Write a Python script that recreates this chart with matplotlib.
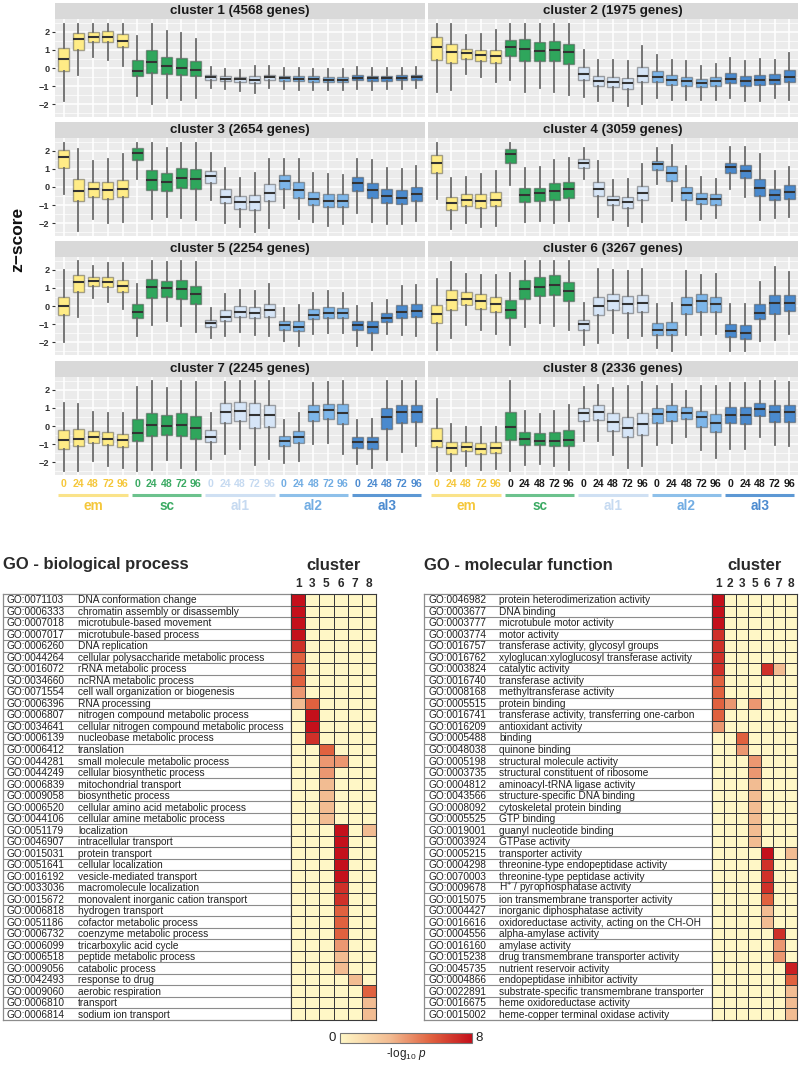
import numpy as np
import matplotlib
matplotlib.use('Agg')
import matplotlib.pyplot as plt
from matplotlib.colors import LinearSegmentedColormap, Normalize
from matplotlib.cm import ScalarMappable

plt.rcParams['font.family'] = ['Liberation Sans', 'DejaVu Sans']
plt.rcParams['mathtext.fontset'] = 'custom'
plt.rcParams['mathtext.rm'] = 'Liberation Sans'
plt.rcParams['mathtext.it'] = 'Liberation Sans:italic'

# ---------------- data: boxplot summaries (25 boxes per cluster) ----------------
groups = ['em', 'sc', 'al1', 'al2', 'al3']
hours = ['0', '24', '48', '72', '96']
cluster_titles = ['cluster 1 (4568 genes)', 'cluster 2 (1975 genes)',
                  'cluster 3 (2654 genes)', 'cluster 4 (3059 genes)',
                  'cluster 5 (2254 genes)', 'cluster 6 (3267 genes)',
                  'cluster 7 (2245 genes)', 'cluster 8 (2336 genes)']

c1_med = [0.5, 1.61, 1.72, 1.72, 1.52, -0.15, 0.33, 0.09, 0.0, -0.13, -0.52, -0.59, -0.63, -0.65, -0.5, -0.57, -0.59, -0.61, -0.65, -0.65, -0.56, -0.57, -0.57, -0.54, -0.52]
c1_q1 = [-0.19, 1.02, 1.44, 1.43, 1.15, -0.46, -0.28, -0.33, -0.41, -0.46, -0.65, -0.72, -0.8, -0.83, -0.65, -0.7, -0.72, -0.76, -0.8, -0.8, -0.69, -0.7, -0.7, -0.68, -0.66]
c1_q3 = [1.11, 1.94, 2.0, 2.04, 1.89, 0.43, 1.02, 0.61, 0.54, 0.39, -0.39, -0.46, -0.5, -0.46, -0.39, -0.43, -0.44, -0.46, -0.5, -0.5, -0.41, -0.43, -0.43, -0.41, -0.39]
c1_lo = [-1.85, -0.37, 0.61, 0.46, 0.09, -1.54, -1.98, -1.67, -1.76, -1.67, -1.11, -1.17, -1.26, -1.39, -1.11, -1.17, -1.2, -1.2, -1.24, -1.24, -1.17, -1.2, -1.17, -1.15, -1.13]
c1_hi = [2.46, 2.46, 2.46, 2.46, 2.46, 1.8, 2.46, 2.04, 1.94, 1.61, 0.04, -0.06, -0.13, 0.09, 0.09, 0.0, 0.0, -0.04, -0.04, -0.04, 0.04, 0.0, 0.0, 0.02, 0.04]

c2_med = [1.15, 0.87, 0.83, 0.72, 0.69, 1.17, 1.06, 0.93, 1.02, 0.87, -0.31, -0.7, -0.78, -0.83, -0.43, -0.5, -0.67, -0.74, -0.83, -0.72, -0.59, -0.72, -0.67, -0.65, -0.5]
c2_q1 = [0.43, 0.28, 0.5, 0.41, 0.28, 0.69, 0.37, 0.37, 0.37, 0.22, -0.65, -0.98, -1.06, -1.17, -0.78, -0.8, -0.94, -0.98, -1.06, -0.98, -0.83, -1.02, -0.94, -0.89, -0.8]
c2_q3 = [1.72, 1.35, 1.06, 1.02, 1.02, 1.57, 1.63, 1.43, 1.5, 1.35, 0.04, -0.43, -0.52, -0.57, 0.04, -0.19, -0.41, -0.5, -0.61, -0.52, -0.28, -0.46, -0.41, -0.35, -0.13]
c2_lo = [-1.35, -1.24, -0.31, -0.5, -0.76, -0.65, -1.31, -1.13, -1.31, -1.48, -1.61, -1.81, -1.85, -2.13, -2.0, -1.69, -1.76, -1.76, -1.76, -1.76, -1.69, -1.85, -1.81, -1.69, -1.76]
c2_hi = [2.46, 2.46, 1.85, 1.91, 2.09, 2.46, 2.46, 2.46, 2.46, 2.46, 1.02, 0.43, 0.46, 0.37, 1.24, 0.7, 0.43, 0.41, 0.09, 0.24, 0.56, 0.37, 0.5, 0.43, 0.83]

c3_med = [1.67, -0.22, -0.13, -0.19, -0.09, 1.91, 0.41, 0.28, 0.5, 0.46, 0.61, -0.54, -0.83, -0.83, -0.31, 0.33, -0.17, -0.65, -0.78, -0.78, 0.2, -0.17, -0.5, -0.59, -0.37]
c3_q1 = [1.07, -0.78, -0.54, -0.65, -0.56, 1.5, -0.17, -0.22, -0.07, -0.13, 0.24, -0.87, -1.2, -1.3, -0.78, -0.09, -0.59, -1.0, -1.11, -1.09, -0.22, -0.63, -0.87, -0.96, -0.78]
c3_q3 = [2.06, 0.43, 0.28, 0.28, 0.39, 2.19, 0.93, 0.76, 1.06, 0.98, 0.89, -0.13, -0.5, -0.46, 0.19, 0.65, 0.28, -0.28, -0.41, -0.41, 0.57, 0.24, -0.09, -0.17, 0.02]
c3_lo = [-0.41, -2.44, -1.76, -2.02, -1.94, 0.46, -1.8, -1.65, -1.74, -1.83, -0.72, -2.02, -2.22, -2.48, -2.26, -1.15, -1.8, -1.94, -2.17, -2.07, -1.43, -1.94, -2.04, -2.07, -1.89]
c3_hi = [2.46, 2.13, 1.44, 1.57, 1.81, 2.46, 2.46, 2.19, 2.43, 2.46, 1.91, 1.07, 0.52, 0.76, 1.57, 1.57, 1.54, 0.76, 0.7, 0.65, 1.57, 1.48, 1.07, 0.98, 1.17]

c4_med = [1.35, -0.91, -0.74, -0.78, -0.72, 1.81, -0.46, -0.35, -0.22, -0.13, 1.35, -0.13, -0.74, -0.81, -0.35, 1.26, 0.8, -0.35, -0.65, -0.69, 1.11, 0.89, -0.04, -0.44, -0.26]
c4_q1 = [0.8, -1.28, -1.06, -1.15, -1.06, 1.31, -0.81, -0.78, -0.72, -0.59, 1.07, -0.5, -1.02, -1.15, -0.74, 0.93, 0.33, -0.72, -0.94, -0.98, 0.8, 0.52, -0.5, -0.74, -0.65]
c4_q3 = [1.78, -0.54, -0.41, -0.41, -0.28, 2.13, -0.07, -0.04, 0.2, 0.28, 1.54, 0.28, -0.5, -0.54, 0.06, 1.44, 1.17, 0.02, -0.35, -0.41, 1.35, 1.22, 0.43, -0.09, 0.09]
c4_lo = [-0.69, -2.35, -1.98, -2.2, -2.17, 0.09, -1.93, -1.89, -2.02, -1.89, 0.43, -1.67, -1.83, -2.17, -1.94, 0.15, -0.78, -1.83, -1.76, -1.7, -0.09, -0.54, -1.83, -1.7, -1.65]
c4_hi = [2.46, 0.52, 0.57, 0.7, 0.89, 2.46, 1.07, 1.11, 1.5, 1.63, 2.19, 1.44, 0.37, 0.46, 1.26, 2.19, 2.33, 1.17, 0.57, 0.46, 2.22, 2.22, 1.85, 0.89, 1.13]

c5_med = [0.02, 1.35, 1.4, 1.35, 1.12, -0.32, 1.05, 0.99, 0.97, 0.67, -0.92, -0.6, -0.32, -0.39, -0.24, -1.07, -1.16, -0.49, -0.39, -0.39, -1.08, -1.18, -0.65, -0.34, -0.28]
c5_q1 = [-0.5, 0.8, 1.12, 1.03, 0.77, -0.65, 0.43, 0.5, 0.41, 0.09, -1.16, -0.84, -0.62, -0.69, -0.6, -1.33, -1.41, -0.73, -0.65, -0.65, -1.36, -1.5, -0.88, -0.69, -0.62]
c5_q3 = [0.52, 1.74, 1.59, 1.59, 1.44, 0.13, 1.5, 1.4, 1.44, 1.12, -0.75, -0.24, 0.0, -0.06, 0.13, -0.84, -0.84, -0.15, -0.06, -0.09, -0.84, -0.84, -0.37, 0.04, 0.09]
c5_lo = [-2.0, -0.62, 0.43, 0.22, -0.19, -1.68, -1.08, -0.84, -1.12, -1.44, -1.78, -1.68, -1.46, -1.59, -1.64, -1.96, -2.2, -1.55, -1.5, -1.5, -2.24, -2.43, -1.55, -1.59, -1.68]
c5_hi = [2.0, 2.48, 2.24, 2.37, 2.37, 1.21, 2.48, 2.43, 2.48, 2.46, -0.09, 0.65, 0.88, 0.84, 1.21, -0.09, 0.04, 0.71, 0.84, 0.71, 0.0, 0.19, 0.32, 1.12, 1.16]

c6_med = [-0.47, 0.34, 0.37, 0.28, 0.13, -0.24, 0.97, 1.08, 1.18, 0.86, -0.99, 0.0, 0.28, 0.09, 0.19, -1.31, -1.31, 0.06, 0.28, 0.13, -1.4, -1.51, -0.37, 0.17, 0.17]
c6_q1 = [-0.93, -0.22, 0.04, -0.15, -0.32, -0.69, 0.41, 0.56, 0.6, 0.28, -1.31, -0.52, -0.21, -0.37, -0.32, -1.59, -1.59, -0.47, -0.32, -0.36, -1.7, -1.83, -0.71, -0.43, -0.28]
c6_q3 = [0.06, 0.88, 0.75, 0.65, 0.5, 0.32, 1.46, 1.59, 1.72, 1.36, -0.75, 0.5, 0.69, 0.56, 0.62, -0.93, -0.9, 0.5, 0.65, 0.5, -0.99, -1.07, 0.09, 0.62, 0.6]
c6_lo = [-2.43, -1.78, -1.03, -1.31, -1.53, -2.19, -1.14, -0.93, -1.1, -1.36, -2.15, -2.06, -1.5, -1.78, -1.68, -2.34, -2.52, -1.63, -1.59, -1.55, -2.49, -2.52, -1.93, -1.87, -1.55]
c6_hi = [1.5, 2.47, 1.78, 1.72, 1.72, 1.81, 2.49, 2.49, 2.49, 2.49, 0.17, 2.04, 2.02, 1.93, 2.04, 0.09, 0.17, 1.96, 1.72, 1.78, 0.13, 0.09, 1.31, 2.15, 1.87]

c7_med = [-0.78, -0.73, -0.6, -0.73, -0.78, -0.37, 0.06, 0.02, 0.06, -0.13, -0.6, 0.8, 0.86, 0.61, 0.6, -0.84, -0.63, 0.8, 0.89, 0.74, -0.88, -0.91, 0.48, 0.76, 0.76]
c7_q1 = [-1.25, -1.12, -0.93, -1.08, -1.15, -0.84, -0.54, -0.5, -0.54, -0.73, -0.88, 0.15, 0.3, -0.13, -0.07, -1.12, -0.97, 0.3, 0.37, 0.11, -1.21, -1.3, -0.19, 0.15, 0.2]
c7_q3 = [-0.22, -0.19, -0.26, -0.35, -0.45, 0.37, 0.71, 0.61, 0.71, 0.56, -0.22, 1.27, 1.36, 1.27, 1.17, -0.56, -0.28, 1.17, 1.23, 1.23, -0.6, -0.6, 0.99, 1.17, 1.14]
c7_lo = [-2.5, -2.5, -1.94, -2.22, -2.31, -2.5, -2.42, -1.86, -2.33, -2.46, -1.81, -1.56, -1.3, -2.14, -1.84, -2.03, -1.96, -1.0, -0.97, -1.53, -2.12, -2.31, -1.86, -1.43, -1.12]
c7_hi = [1.3, 1.23, 0.8, 0.74, 0.74, 2.16, 2.48, 2.1, 2.48, 2.42, 0.74, 2.42, 2.48, 2.48, 2.48, 0.34, 0.74, 2.38, 2.42, 2.48, 0.34, 0.37, 2.48, 2.48, 2.48]

c8_med = [-0.84, -1.23, -1.14, -1.25, -1.21, -0.07, -0.74, -0.82, -0.82, -0.78, 0.71, 0.76, 0.2, -0.13, 0.09, 0.65, 0.76, 0.74, 0.48, 0.19, 0.61, 0.61, 0.95, 0.76, 0.76]
c8_q1 = [-1.19, -1.56, -1.4, -1.56, -1.49, -0.78, -1.06, -1.06, -1.12, -1.12, 0.3, 0.34, -0.28, -0.63, -0.5, 0.19, 0.28, 0.39, -0.04, -0.35, 0.15, 0.11, 0.56, 0.24, 0.2]
c8_q3 = [-0.13, -0.91, -0.88, -0.93, -0.91, 0.76, -0.32, -0.37, -0.35, -0.22, 0.99, 1.14, 0.71, 0.48, 0.71, 0.99, 1.14, 1.04, 0.84, 0.67, 1.04, 1.08, 1.3, 1.17, 1.17]
c8_lo = [-2.5, -2.5, -2.24, -2.46, -2.37, -2.5, -2.18, -2.12, -2.24, -2.42, -0.82, -0.82, -1.62, -2.31, -2.24, -1.06, -0.93, -0.63, -1.34, -1.77, -1.25, -1.25, -0.63, -1.06, -1.12]
c8_hi = [1.49, 0.11, -0.04, -0.04, -0.07, 2.48, 0.86, 0.67, 0.84, 1.14, 2.16, 2.29, 2.1, 2.2, 2.42, 2.2, 2.33, 1.92, 2.2, 2.2, 2.38, 2.38, 2.48, 2.48, 2.42]

cluster_stats = [
    (c1_med, c1_q1, c1_q3, c1_lo, c1_hi), (c2_med, c2_q1, c2_q3, c2_lo, c2_hi),
    (c3_med, c3_q1, c3_q3, c3_lo, c3_hi), (c4_med, c4_q1, c4_q3, c4_lo, c4_hi),
    (c5_med, c5_q1, c5_q3, c5_lo, c5_hi), (c6_med, c6_q1, c6_q3, c6_lo, c6_hi),
    (c7_med, c7_q1, c7_q3, c7_lo, c7_hi), (c8_med, c8_q1, c8_q3, c8_lo, c8_hi)]

# ---------------- data: GO enrichment tables ----------------
bp_ids = ['GO:0071103', 'GO:0006333', 'GO:0007018', 'GO:0007017', 'GO:0006260', 'GO:0044264',
          'GO:0016072', 'GO:0034660', 'GO:0071554', 'GO:0006396', 'GO:0006807', 'GO:0034641',
          'GO:0006139', 'GO:0006412', 'GO:0044281', 'GO:0044249', 'GO:0006839', 'GO:0009058',
          'GO:0006520', 'GO:0044106', 'GO:0051179', 'GO:0046907', 'GO:0015031', 'GO:0051641',
          'GO:0016192', 'GO:0033036', 'GO:0015672', 'GO:0006818', 'GO:0051186', 'GO:0006732',
          'GO:0006099', 'GO:0006518', 'GO:0009056', 'GO:0042493', 'GO:0009060', 'GO:0006810',
          'GO:0006814']
bp_names = ['DNA conformation change', 'chromatin assembly or disassembly', 'microtubule-based movement',
            'microtubule-based process', 'DNA replication', 'cellular polysaccharide metabolic process',
            'rRNA metabolic process', 'ncRNA metabolic process', 'cell wall organization or biogenesis',
            'RNA processing', 'nitrogen compound metabolic process',
            'cellular nitrogen compound metabolic process', 'nucleobase metabolic process', 'translation',
            'small molecule metabolic process', 'cellular biosynthetic process', 'mitochondrial transport',
            'biosynthetic process', 'cellular amino acid metabolic process', 'cellular amine metabolic process',
            'localization', 'intracellular transport', 'protein transport', 'cellular localization',
            'vesicle-mediated transport', 'macromolecule localization',
            'monovalent inorganic cation transport', 'hydrogen transport', 'cofactor metabolic process',
            'coenzyme metabolic process', 'tricarboxylic acid cycle', 'peptide metabolic process',
            'catabolic process', 'response to drug', 'aerobic respiration', 'transport',
            'sodium ion transport']
bp_clusters = ['1', '3', '5', '6', '7', '8']
bp_logp = [
    [8, 0, 0, 0, 0, 0], [8, 0, 0, 0, 0, 0], [8, 0, 0, 0, 0, 0], [8, 0, 0, 0, 0, 0],
    [7, 0, 0, 0, 0, 0], [5.5, 0, 0, 0, 0, 0], [5.5, 0, 0, 0, 0, 0], [5.5, 0, 0, 0, 0, 0],
    [4, 0, 0, 0, 0, 0], [3, 5.5, 0, 0, 0, 0], [0, 8, 0, 0, 0, 0], [0, 8, 0, 0, 0, 0],
    [0, 7, 0, 0, 0, 0], [0, 0, 5.5, 0, 0, 0], [0, 0, 4, 4, 0, 0], [0, 0, 4, 0, 0, 0],
    [0, 0, 3, 0, 0, 0], [0, 0, 3, 0, 0, 0], [0, 0, 3, 0, 0, 0], [0, 0, 3, 0, 0, 0],
    [0, 0, 0, 8, 0, 3], [0, 0, 0, 8, 0, 0], [0, 0, 0, 8, 0, 0], [0, 0, 0, 8, 0, 0],
    [0, 0, 0, 8, 0, 0], [0, 0, 0, 7, 0, 0], [0, 0, 0, 7, 0, 0], [0, 0, 0, 5.5, 0, 0],
    [0, 0, 0, 5.5, 0, 0], [0, 0, 0, 5.5, 0, 0], [0, 0, 0, 4, 0, 0], [0, 0, 0, 3, 0, 0],
    [0, 0, 0, 3, 0, 0], [0, 0, 0, 0, 3, 0], [0, 0, 0, 0, 0, 5.5], [0, 0, 0, 0, 0, 3],
    [0, 0, 0, 0, 0, 3]]

mf_ids = ['GO:0046982', 'GO:0003677', 'GO:0003777', 'GO:0003774', 'GO:0016757', 'GO:0016762',
          'GO:0003824', 'GO:0016740', 'GO:0008168', 'GO:0005515', 'GO:0016741', 'GO:0016209',
          'GO:0005488', 'GO:0048038', 'GO:0005198', 'GO:0003735', 'GO:0004812', 'GO:0043566',
          'GO:0008092', 'GO:0005525', 'GO:0019001', 'GO:0003924', 'GO:0005215', 'GO:0004298',
          'GO:0070003', 'GO:0009678', 'GO:0015075', 'GO:0004427', 'GO:0016616', 'GO:0004556',
          'GO:0016160', 'GO:0015238', 'GO:0045735', 'GO:0004866', 'GO:0022891', 'GO:0016675',
          'GO:0015002']
mf_names = ['protein heterodimerization activity', 'DNA binding', 'microtubule motor activity',
            'motor activity', 'transferase activity, glycosyl groups',
            'xyloglucan:xyloglucosyl transferase activity', 'catalytic activity', 'transferase activity',
            'methyltransferase activity', 'protein binding', 'transferase activity, transferring one-carbon',
            'antioxidant activity', 'binding', 'quinone binding', 'structural molecule activity',
            'structural constituent of ribosome', 'aminoacyl-tRNA ligase activity',
            'structure-specific DNA binding', 'cytoskeletal protein binding', 'GTP binding',
            'guanyl nucleotide binding', 'GTPase activity', 'transporter activity',
            'threonine-type endopeptidase activity', 'threonine-type peptidase activity',
            'H$^{+}$ / pyrophosphatase activity', 'ion transmembrane transporter activity',
            'inorganic diphosphatase activity', 'oxidoreductase activity, acting on the CH-OH',
            'alpha-amylase activity', 'amylase activity', 'drug transmembrane transporter activity',
            'nutrient reservoir activity', 'endopeptidase inhibitor activity',
            'substrate-specific transmembrane transporter', 'heme oxidoreductase activity',
            'heme-copper terminal oxidase activity']
mf_clusters = ['1', '2', '3', '5', '6', '7', '8']
mf_logp = [
    [8, 0, 0, 0, 0, 0, 0], [8, 0, 0, 0, 0, 0, 0], [8, 0, 0, 0, 0, 0, 0], [7, 0, 0, 0, 0, 0, 0],
    [7, 0, 0, 0, 0, 0, 0], [7, 0, 0, 0, 0, 0, 0], [7, 0, 0, 0, 7, 3, 0], [5.5, 0, 0, 0, 0, 0, 0],
    [5.5, 0, 0, 0, 0, 0, 0], [5.5, 4, 0, 4, 0, 0, 0], [5.5, 0, 0, 0, 0, 0, 0], [4, 0, 0, 0, 0, 0, 0],
    [0, 0, 5.5, 0, 0, 0, 0], [0, 0, 4, 0, 0, 0, 0], [0, 0, 0, 4, 0, 0, 0], [0, 0, 0, 4, 0, 0, 0],
    [0, 0, 0, 3, 0, 0, 0], [0, 0, 0, 3, 0, 0, 0], [0, 0, 0, 3, 0, 0, 0], [0, 0, 0, 3, 0, 0, 0],
    [0, 0, 0, 3, 0, 0, 0], [0, 0, 0, 3, 0, 0, 0], [0, 0, 0, 0, 8, 0, 3], [0, 0, 0, 0, 7, 0, 0],
    [0, 0, 0, 0, 7, 0, 0], [0, 0, 0, 0, 7, 0, 0], [0, 0, 0, 0, 5.5, 0, 0], [0, 0, 0, 0, 3, 0, 0],
    [0, 0, 0, 0, 3, 0, 0], [0, 0, 0, 0, 0, 7, 0], [0, 0, 0, 0, 0, 4, 0], [0, 0, 0, 0, 0, 4, 0],
    [0, 0, 0, 0, 0, 0, 7.5], [0, 0, 0, 0, 0, 0, 5.5], [0, 0, 0, 0, 0, 0, 3], [0, 0, 0, 0, 0, 0, 3],
    [0, 0, 0, 0, 0, 0, 3]]

# ---------------- styling ----------------
box_fill = {'em': '#FFEC86', 'sc': '#2FA65C', 'al1': '#D6E5F7', 'al2': '#7DB6EA', 'al3': '#4A8ACE'}
label_col = {'em': '#F5C73A', 'sc': '#3BAA63', 'al1': '#C6DAF1', 'al2': '#72ADE3', 'al3': '#4C8BD0'}
line_col = {'em': '#FAE38A', 'sc': '#6CC28D', 'al1': '#CFE0F3', 'al2': '#8EC0EA', 'al3': '#5D98D4'}

W, H = 800, 1065
fig = plt.figure(figsize=(W / 100, H / 100), dpi=100)


def add_ax(x0, y0, x1, y1):
    return fig.add_axes([x0 / W, 1 - y1 / H, (x1 - x0) / W, (y1 - y0) / H])


col_x = [(55, 425), (428, 798)]
row_top = [3, 122, 241, 361]
positions = np.arange(1, 26)

for k in range(8):
    r, c = divmod(k, 2)
    x0, x1 = col_x[c]
    top = row_top[r]
    # strip
    sax = add_ax(x0, top, x1, top + 16)
    sax.set_facecolor('#D9D9D9')
    sax.set_xticks([]); sax.set_yticks([])
    for s in sax.spines.values():
        s.set_visible(False)
    sax.text(0.5, 0.5, cluster_titles[k], ha='center', va='center', fontsize=9.6,
             fontweight='bold', color='#1A1A1A', transform=sax.transAxes)
    # panel
    ax = add_ax(x0, top + 16, x1, top + 114)
    ax.set_facecolor('#EBEBEB')
    med, q1, q3, lo, hi = cluster_stats[k]
    stats = [dict(med=med[i], q1=q1[i], q3=q3[i], whislo=lo[i], whishi=hi[i]) for i in range(25)]
    bp = ax.bxp(stats, positions=positions, widths=0.75, patch_artist=True, showcaps=False,
                showfliers=False,
                boxprops=dict(edgecolor=(0.25, 0.25, 0.25, 0.45), linewidth=1.0),
                whiskerprops=dict(color='#6A6A6A', linewidth=1.3),
                medianprops=dict(color='#333333', linewidth=1.5, solid_capstyle='butt'))
    for i, patch in enumerate(bp['boxes']):
        patch.set_facecolor(box_fill[groups[i // 5]])
    ax.set_xlim(0.4, 25.6)
    ax.set_ylim(-2.72, 2.72)
    ax.set_xticks(positions)
    ax.set_xticklabels([])
    ax.set_yticks([-2, -1, 0, 1, 2])
    ax.set_yticks(np.arange(-2.5, 2.6, 1.0), minor=True)
    ax.grid(which='major', color='white', linewidth=1.1)
    ax.grid(which='minor', axis='y', color='white', linewidth=0.5)
    ax.set_axisbelow(True)
    for s in ax.spines.values():
        s.set_visible(False)
    ax.tick_params(axis='x', length=0)
    ax.tick_params(axis='y', which='minor', length=0)
    if c == 0:
        ax.set_yticklabels(['\u22122', '\u22121', '0', '1', '2'])
        ax.tick_params(axis='y', which='major', length=2.5, width=0.8, color='#333333',
                       labelsize=6.6, labelcolor='#333333', pad=1.5)
        for lbl in ax.get_yticklabels():
            lbl.set_fontweight('bold')
    else:
        ax.set_yticklabels([])
        ax.tick_params(axis='y', which='major', length=0)
    if r == 3:
        tr = ax.get_xaxis_transform()
        for i in range(25):
            g = groups[i // 5]
            col = label_col[g] if (c == 0 or g == 'em') else '#1A1A1A'
            ax.text(positions[i], -9 / 98, hours[i % 5], transform=tr, ha='center', va='center',
                    fontsize=7.6, fontweight='bold', color=col, clip_on=False)
        for gi, g in enumerate(groups):
            p0 = positions[gi * 5]
            p1 = positions[gi * 5 + 4]
            ax.plot([p0 - 0.37, p1 + 0.35], [-20 / 98, -20 / 98], transform=tr, color=line_col[g],
                    linewidth=2.2, solid_capstyle='butt', clip_on=False)
            ax.text((p0 + p1) / 2, -31 / 98, g, transform=tr, ha='center', va='center',
                    fontsize=9.8, fontweight='bold', color=label_col[g], clip_on=False)

fig.text(18 / W, 1 - 239 / H, 'z\u2212score', rotation=90, ha='center', va='center',
         fontsize=12.5, fontweight='bold', color='#111111')

# ---------------- GO tables ----------------
cmap = LinearSegmentedColormap.from_list(
    'go', [(0.0, '#FFF7C6'), (0.375, '#F2BC92'), (0.69, '#E0613F'), (1.0, '#C4101B')])
norm = Normalize(0, 8)


def go_table(title, ids, names, clusters, vals, x_left, x_heat, x_right, x_id, x_name):
    y_top, y_bot = 594, 1020
    n = len(ids)
    fig.text(x_left / W, 1 - 565 / H, title, ha='left', va='center', fontsize=12,
             fontweight='bold', color='#2A2A2A')
    fig.text(((x_heat + x_right) / 2) / W, 1 - 565 / H, 'cluster', ha='center', va='center',
             fontsize=12, fontweight='bold', color='#2A2A2A')
    tax = add_ax(x_left, y_top, x_heat, y_bot)
    tax.set_xlim(x_left, x_heat)
    tax.set_ylim(n, 0)
    tax.set_xticks([]); tax.set_yticks([])
    for s in tax.spines.values():
        s.set_color('#8C8C8C'); s.set_linewidth(0.9)
    tax.hlines(np.arange(1, n), x_left, x_heat, color='#8C8C8C', linewidth=0.8)
    for i in range(n):
        tax.text(x_id, i + 0.55, ids[i], ha='left', va='center', fontsize=7.3, color='#222222')
        tax.text(x_name, i + 0.55, names[i], ha='left', va='center', fontsize=7.3, color='#222222')
    hax = add_ax(x_heat, y_top, x_right, y_bot)
    m = len(clusters)
    hax.pcolormesh(np.arange(m + 1), np.arange(n + 1), np.array(vals), cmap=cmap, norm=norm,
                   edgecolors='#3A3A3A', linewidth=0.6)
    hax.set_xlim(0, m)
    hax.set_ylim(n, 0)
    hax.set_xticks([]); hax.set_yticks([])
    for s in hax.spines.values():
        s.set_color('#3A3A3A'); s.set_linewidth(0.8)
    for j, lab in enumerate(clusters):
        hax.text(j + 0.5, -0.88, lab, ha='center', va='center', fontsize=8.6, fontweight='bold',
                 color='#2A2A2A', clip_on=False)


go_table('GO - biological process', bp_ids, bp_names, bp_clusters, bp_logp,
         3, 291, 376, 7, 78)
go_table('GO - molecular function', mf_ids, mf_names, mf_clusters, mf_logp,
         424, 712, 797, 428, 499)

# colorbar
cax = add_ax(340, 1033, 472, 1043)
cb = fig.colorbar(ScalarMappable(norm=norm, cmap=cmap), cax=cax, orientation='horizontal', ticks=[])
cb.outline.set_edgecolor('#777777')
cb.outline.set_linewidth(0.8)
fig.text(336 / W, 1 - 1038 / H, '0', ha='right', va='center', fontsize=9.5, color='#222222')
fig.text(475 / W, 1 - 1038 / H, '8', ha='left', va='center', fontsize=9.5, color='#222222')
fig.text(406 / W, 1 - 1054 / H, '-log$_{10}$ $p$', ha='center', va='center', fontsize=8.5,
         color='#222222')

fig.savefig('out.png', dpi=100)
